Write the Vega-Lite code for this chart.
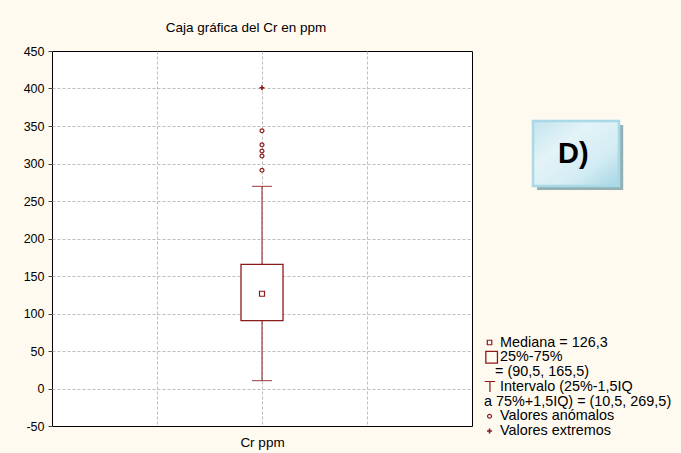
{
  "$schema": "https://vega.github.io/schema/vega-lite/v6.json",
  "width": 420,
  "height": 375,
  "autosize": {"type": "none"},
  "padding": {"left": 52, "top": 51, "right": 209, "bottom": 27},
  "background": "#FFFAF0",
  "config": {
    "font": "Liberation Sans",
    "view": {"stroke": "#000000", "strokeWidth": 1, "fill": "#ffffff"},
    "axis": {"labelOverlap": false}
  },
  "title": {
    "text": "Caja gráfica del Cr en ppm",
    "font": "Liberation Sans",
    "fontSize": 13.5,
    "fontWeight": "normal",
    "color": "#000000",
    "anchor": "middle",
    "baseline": "alphabetic",
    "dx": -16,
    "offset": 0
  },
  "resolve": {"scale": {"y": "independent"}},
  "layer": [
    {
      "data": {"values": [{"variable": "Cr ppm", "q1": 90.5, "q3": 165.5, "med": 126.3, "lo": 10.5, "hi": 269.5}]},
      "layer": [
        {
          "mark": {"type": "rule", "color": "#8B1A1A", "strokeWidth": 1},
          "encoding": {
            "x": {
              "datum": 2, "type": "quantitative",
              "scale": {"domain": [0, 4], "nice": false, "zero": false, "padding": 0},
              "axis": {
                "values": [1, 2, 3], "title": null, "domain": false, "ticks": false,
                "labelExpr": "datum.value == 2 ? 'Cr ppm' : ''",
                "labelFont": "Liberation Sans", "labelFontSize": 13.5, "labelColor": "#000000",
                "labelPadding": 9,
                "grid": true, "gridColor": "#BDBDBD", "gridDash": [3, 2], "gridWidth": 1
              }
            },
            "y": {
              "field": "lo", "type": "quantitative",
              "scale": {"domain": [-50, 450], "nice": false, "zero": false},
              "axis": {
                "values": [-50, 0, 50, 100, 150, 200, 250, 300, 350, 400, 450],
                "tickCount": 11,
                "labelExpr": "datum.value + ''",
                "labelOverlap": false,
                "title": null, "domain": false,
                "tickSize": 4, "tickColor": "#444444",
                "labelPadding": 4, "labelFont": "Liberation Sans", "labelFontSize": 12.5, "labelColor": "#000000",
                "grid": true, "gridColor": "#BDBDBD", "gridDash": [3, 2], "gridWidth": 1,
                "gridOpacity": {"condition": {"test": "datum.value == 450 || datum.value == -50", "value": 0}, "value": 1}
              }
            },
            "y2": {"field": "q1"}
          }
        },
        {
          "mark": {"type": "rule", "color": "#8B1A1A", "strokeWidth": 1},
          "encoding": {
            "x": {"datum": 2, "type": "quantitative", "scale": {"domain": [0, 4], "padding": 0}},
            "y": {"field": "q3", "type": "quantitative"},
            "y2": {"field": "hi"}
          }
        },
        {
          "mark": {"type": "bar", "size": 42, "fill": "#ffffff", "stroke": "#8B1A1A", "strokeWidth": 1.3},
          "encoding": {
            "x": {"datum": 2, "type": "quantitative", "scale": {"domain": [0, 4], "padding": 0}},
            "y": {"field": "q1", "type": "quantitative"},
            "y2": {"field": "q3"}
          }
        },
        {
          "mark": {"type": "tick", "orient": "horizontal", "size": 20, "thickness": 1.2, "color": "#8B1A1A"},
          "encoding": {
            "x": {"datum": 2, "type": "quantitative", "scale": {"domain": [0, 4], "padding": 0}},
            "y": {"field": "lo", "type": "quantitative"}
          }
        },
        {
          "mark": {"type": "tick", "orient": "horizontal", "size": 20, "thickness": 1.2, "color": "#8B1A1A"},
          "encoding": {
            "x": {"datum": 2, "type": "quantitative", "scale": {"domain": [0, 4], "padding": 0}},
            "y": {"field": "hi", "type": "quantitative"}
          }
        },
        {
          "mark": {"type": "point", "shape": "square", "size": 25, "filled": false, "stroke": "#8B1A1A", "strokeWidth": 1.2, "opacity": 1},
          "encoding": {
            "x": {"datum": 2, "type": "quantitative", "scale": {"domain": [0, 4], "padding": 0}},
            "y": {"field": "med", "type": "quantitative"}
          }
        },
        {
          "data": {"values": [{"valor": 343.7}, {"valor": 325}, {"valor": 316.7}, {"valor": 310}, {"valor": 291}]},
          "mark": {"type": "point", "shape": "circle", "size": 15, "filled": false, "stroke": "#8B1A1A", "strokeWidth": 1.2, "opacity": 1},
          "encoding": {
            "x": {"datum": 2, "type": "quantitative", "scale": {"domain": [0, 4], "padding": 0}},
            "y": {"field": "valor", "type": "quantitative"}
          }
        },
        {
          "data": {"values": [{"valor": 401}]},
          "mark": {"type": "point", "shape": "M-1,0H1M0,-1V1", "size": 25, "filled": false, "stroke": "#8B1A1A", "strokeWidth": 1.6, "opacity": 1},
          "encoding": {
            "x": {"datum": 2, "type": "quantitative", "scale": {"domain": [0, 4], "padding": 0}},
            "y": {"field": "valor", "type": "quantitative"}
          }
        },
        {
          "mark": {"type": "rect", "fill": "#93B1B4", "clip": false},
          "encoding": {
            "x": {"datum": 4.62, "type": "quantitative", "scale": {"domain": [0, 4], "padding": 0}},
            "x2": {"datum": 5.44},
            "y": {"datum": 351.3, "type": "quantitative"},
            "y2": {"datum": 264.7}
          }
        },
        {
          "mark": {
            "type": "rect", "clip": false, "stroke": "#A9D8E6", "strokeWidth": 2.5,
            "fill": {
              "gradient": "linear", "x1": 0, "y1": 0, "x2": 1, "y2": 1,
              "stops": [
                {"offset": 0, "color": "#C3E4EE"},
                {"offset": 0.35, "color": "#E4F3F8"},
                {"offset": 0.7, "color": "#D2ECF3"},
                {"offset": 1, "color": "#A6D5E3"}
              ]
            }
          },
          "encoding": {
            "x": {"datum": 4.581, "type": "quantitative", "scale": {"domain": [0, 4], "padding": 0}},
            "x2": {"datum": 5.4},
            "y": {"datum": 356.7, "type": "quantitative"},
            "y2": {"datum": 270}
          }
        },
        {
          "mark": {"type": "text", "text": "D)", "font": "Liberation Sans", "fontSize": 29, "fontWeight": "bold", "color": "#000000", "align": "center", "baseline": "alphabetic"},
          "encoding": {
            "x": {"datum": 4.965, "type": "quantitative", "scale": {"domain": [0, 4], "padding": 0}},
            "y": {"datum": 300.3, "type": "quantitative"}
          }
        }
      ]
    },
    {
      "data": {"values": [
        {"line": 1, "texto": "Mediana = 126,3", "simbolo": "mediana"},
        {"line": 2, "texto": "25%-75%", "simbolo": "caja"},
        {"line": 3, "texto": "= (90,5, 165,5)", "simbolo": ""},
        {"line": 4, "texto": "Intervalo (25%-1,5IQ", "simbolo": "bigote"},
        {"line": 5, "texto": "a 75%+1,5IQ) = (10,5, 269,5)", "simbolo": ""},
        {"line": 6, "texto": "Valores anómalos", "simbolo": "anomalo"},
        {"line": 7, "texto": "Valores extremos", "simbolo": "extremo"}
      ]},
      "encoding": {
        "y": {"field": "line", "type": "quantitative", "scale": {"domain": [-18.76, 6.66], "reverse": true, "nice": false, "zero": false}, "axis": null}
      },
      "layer": [
        {
          "transform": [{"filter": "indexof([1,2,4,6,7], datum.line) >= 0"}],
          "mark": {"type": "text", "align": "left", "baseline": "middle", "font": "Liberation Sans", "fontSize": 14.4, "color": "#000000"},
          "encoding": {
            "x": {"datum": 4.267, "type": "quantitative", "scale": {"domain": [0, 4], "padding": 0}},
            "text": {"field": "texto"}
          }
        },
        {
          "transform": [{"filter": "datum.line == 3"}],
          "mark": {"type": "text", "align": "left", "baseline": "middle", "font": "Liberation Sans", "fontSize": 14.4, "color": "#000000"},
          "encoding": {
            "x": {"datum": 4.219, "type": "quantitative", "scale": {"domain": [0, 4], "padding": 0}},
            "text": {"field": "texto"}
          }
        },
        {
          "transform": [{"filter": "datum.line == 5"}],
          "mark": {"type": "text", "align": "left", "baseline": "middle", "font": "Liberation Sans", "fontSize": 14.4, "color": "#000000"},
          "encoding": {
            "x": {"datum": 4.114, "type": "quantitative", "scale": {"domain": [0, 4], "padding": 0}},
            "text": {"field": "texto"}
          }
        },
        {
          "transform": [{"filter": "datum.simbolo == 'mediana'"}],
          "mark": {"type": "point", "shape": "square", "size": 20, "filled": false, "stroke": "#8B1A1A", "strokeWidth": 1.2, "opacity": 1},
          "encoding": {"x": {"datum": 4.167, "type": "quantitative", "scale": {"domain": [0, 4], "padding": 0}}}
        },
        {
          "transform": [{"filter": "datum.simbolo == 'caja'"}],
          "mark": {"type": "point", "shape": "square", "size": 135, "filled": false, "stroke": "#8B1A1A", "strokeWidth": 1.3, "opacity": 1, "dy": 1.5},
          "encoding": {"x": {"datum": 4.187, "type": "quantitative", "scale": {"domain": [0, 4], "padding": 0}}}
        },
        {
          "transform": [{"filter": "datum.simbolo == 'bigote'"}],
          "mark": {"type": "point", "shape": "M-1,-1H1M0,-1V1", "size": 110, "filled": false, "stroke": "#8B1A1A", "strokeWidth": 1.2, "opacity": 1},
          "encoding": {"x": {"datum": 4.171, "type": "quantitative", "scale": {"domain": [0, 4], "padding": 0}}}
        },
        {
          "transform": [{"filter": "datum.simbolo == 'anomalo'"}],
          "mark": {"type": "point", "shape": "circle", "size": 15, "filled": false, "stroke": "#8B1A1A", "strokeWidth": 1.2, "opacity": 1},
          "encoding": {"x": {"datum": 4.167, "type": "quantitative", "scale": {"domain": [0, 4], "padding": 0}}}
        },
        {
          "transform": [{"filter": "datum.simbolo == 'extremo'"}],
          "mark": {"type": "point", "shape": "M-1,0H1M0,-1V1", "size": 25, "filled": false, "stroke": "#8B1A1A", "strokeWidth": 1.6, "opacity": 1},
          "encoding": {"x": {"datum": 4.167, "type": "quantitative", "scale": {"domain": [0, 4], "padding": 0}}}
        }
      ]
    }
  ]
}
